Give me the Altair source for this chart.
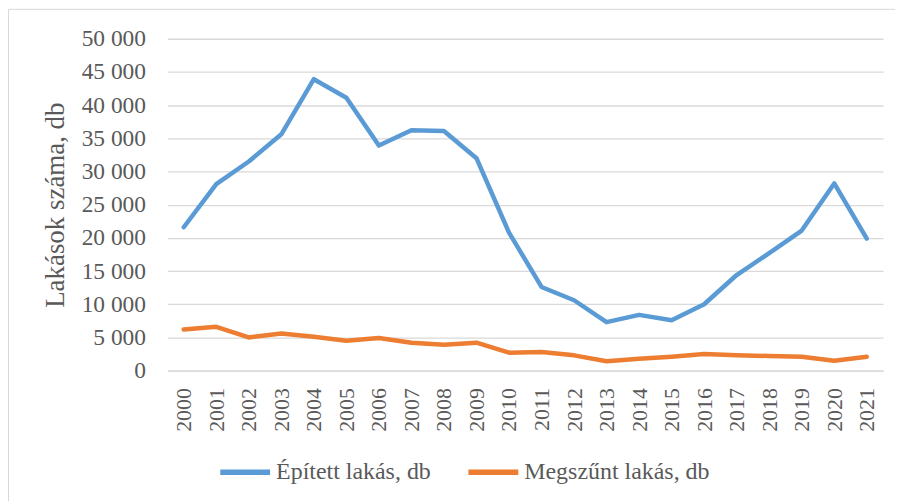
import altair as alt
import pandas as pd

years = [str(y) for y in range(2000, 2022)]
built = [21600, 28100, 31500, 35600, 43900, 41100, 33900, 36200, 36100, 32000, 20800,
         12600, 10600, 7300, 8400, 7600, 10000, 14400, 17700, 21100, 28200, 19900]
removed = [6200, 6600, 5000, 5600, 5100, 4500, 4900, 4200, 3900, 4200, 2700,
           2800, 2300, 1400, 1800, 2100, 2500, 2300, 2200, 2100, 1500, 2100]
series_names = ["Épített lakás, db", "Megszűnt lakás, db"]
colors = ["#5B9BD5", "#ED7D31"]

rows = []
for name, vals in zip(series_names, [built, removed]):
    for y, v in zip(years, vals):
        rows.append({"Év": y, "Sorozat": name, "Érték": v})
df = pd.DataFrame(rows)

W, H = 718, 333
PL, PT, PR, PB = 160, 30, 12, 130
FONT = "Liberation Serif"
TXT = "#595959"

lines = alt.Chart(df).mark_line(strokeWidth=4.5, strokeCap="round", strokeJoin="round").encode(
    x=alt.X("Év:O", scale=alt.Scale(type="point", padding=0.5),
            axis=alt.Axis(title=None, labelAngle=-90, labelFontSize=22, labelFont=FONT,
                          labelColor=TXT, ticks=False, grid=False, domainColor="#D9D9D9",
                          domainWidth=1.3, labelPadding=17, labelBaseline="middle",
                          labelAlign="right")),
    y=alt.Y("Érték:Q", scale=alt.Scale(domain=[0, 50000], nice=False),
            axis=alt.Axis(title="Lakások száma, db", values=list(range(0, 50001, 5000)),
                          labelExpr="replace(format(datum.value, ','), ',', ' ')",
                          labelFontSize=23.5, labelFont=FONT, labelColor=TXT,
                          titleFontSize=27, titleFont=FONT, titleColor=TXT,
                          titleFontWeight="normal", titlePadding=12,
                          ticks=False, domain=False, gridColor="#D9D9D9", gridWidth=1.3,
                          labelPadding=22)),
    color=alt.Color("Sorozat:N", scale=alt.Scale(domain=series_names, range=colors),
                    legend=alt.Legend(title=None, orient="none", direction="horizontal",
                                      legendX=50, legendY=407, symbolType="stroke",
                                      symbolStrokeWidth=5.5, symbolSize=2500,
                                      labelFontSize=24, labelFont=FONT, labelColor=TXT,
                                      labelLimit=400, columnPadding=26, labelOffset=3)),
)

frame_left = alt.Chart(pd.DataFrame({"a": [0]})).mark_rule(
    stroke="#D9D9D9", strokeWidth=1, clip=False
).encode(
    x=alt.value(-PL + 0.5), y=alt.value(-PT + 0.5), y2=alt.value(H + PB + 20),
)
frame_top = alt.Chart(pd.DataFrame({"a": [0]})).mark_rule(
    stroke="#D9D9D9", strokeWidth=1, clip=False
).encode(
    y=alt.value(-PT + 0.5), x=alt.value(-PL + 0.5), x2=alt.value(W + PR + 20),
)

chart = alt.layer(lines, frame_left, frame_top).properties(
    width=W, height=H,
    autosize=alt.AutoSizeParams(type="none"),
    padding={"left": PL, "top": PT, "right": PR, "bottom": PB},
    background="white",
).configure_view(strokeWidth=0, stroke="transparent")

chart.save("out.html", embed_options={"renderer": "svg", "actions": False})
